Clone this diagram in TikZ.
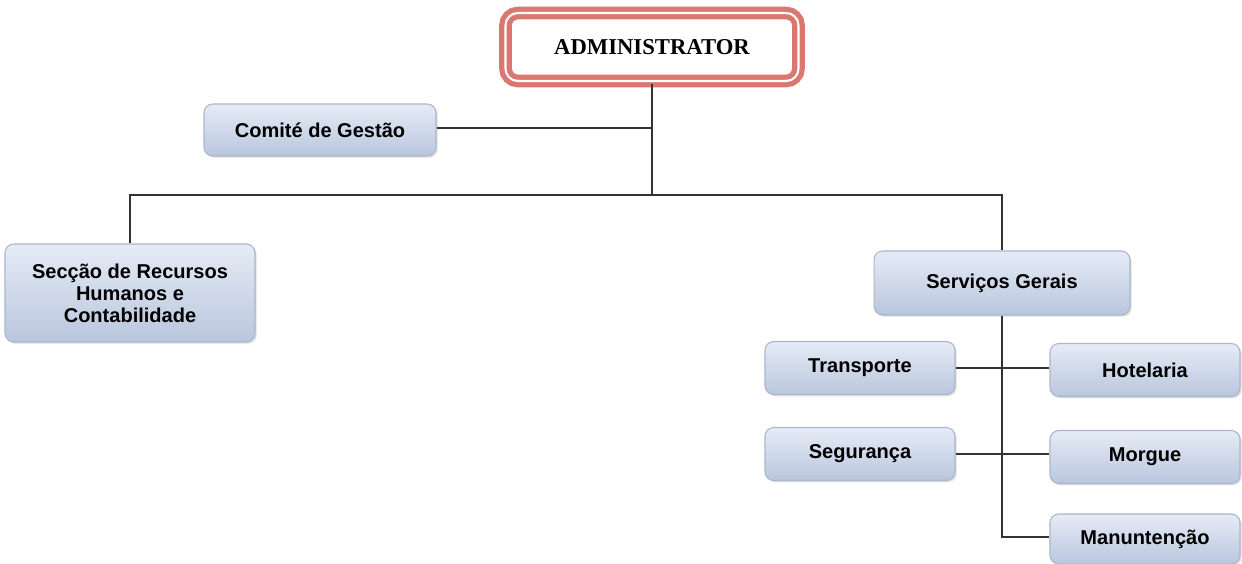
\documentclass[tikz,border=0pt]{standalone}
\usepackage{fontspec}
\setmainfont{Liberation Sans}
\newfontfamily\headfont{Liberation Serif}
\usetikzlibrary{shadows}
\definecolor{boxtop}{HTML}{E6ECF6}
\definecolor{boxbot}{HTML}{B9C6DD}
\definecolor{boxedge}{HTML}{A9B6CC}
\definecolor{headred}{HTML}{DB7770}
\definecolor{lineclr}{HTML}{333333}
\tikzset{
  unit/.style={draw=boxedge, line width=0.6pt, rounded corners=5pt,
    top color=boxtop, bottom color=boxbot, align=center,
    font=\bfseries\fontsize{11.4}{12.5}\selectfont, inner sep=0pt,
    drop shadow={shadow xshift=1pt, shadow yshift=-1pt, opacity=0.25}},
  head/.style={draw=headred, line width=3pt, rounded corners=7pt, fill=white,
    double=white, double distance=1.2pt,
    font=\headfont\bfseries\fontsize{12.9}{15}\selectfont, inner sep=0pt},
  link/.style={draw=lineclr, line width=0.6pt}
}
\begin{document}
\begin{tikzpicture}[x=0.02cm, y=-0.02cm]
\useasboundingbox (0,0) rectangle (1242,564);
% top of the chart
\node[head, minimum width=5.86cm, minimum height=1.36cm] (adm) at (652,47) {ADMINISTRATOR};
\node[unit, minimum width=4.64cm, minimum height=1.04cm] (com) at (320,130) {Comité de Gestão};
% first level
\node[unit, minimum width=5.0cm, minimum height=1.96cm] (rh) at (130,293) {Secção de Recursos\\Humanos e\\Contabilidade};
\node[unit, minimum width=5.12cm, minimum height=1.28cm] (sg) at (1002,283) {Serviços Gerais};
% general services units
\node[unit, minimum width=3.8cm, minimum height=1.06cm] (tra) at (860,368) {Transporte};
\node[unit, minimum width=3.8cm, minimum height=1.06cm] (seg) at (860,454) {Segurança};
\node[unit, minimum width=3.8cm, minimum height=1.06cm] (hot) at (1145,370) {Hotelaria};
\node[unit, minimum width=3.8cm, minimum height=1.06cm] (mor) at (1145,457) {Morgue};
\node[unit, minimum width=3.8cm, minimum height=1.0cm] (man) at (1145,539) {Manuntenção};
% connectors
\coordinate (hub) at (652,195);
\coordinate (sgdrop) at (1002,537);
\draw[link] (adm.south) -- (hub);
\draw[link] (com.east |- 0,128) -- (652,128);
\draw[link] (rh.north) |- (hub);
\draw[link] (sg.north) |- (hub);
\draw[link] (sg.south) -- (sgdrop) -- (man.west |- sgdrop);
\draw[link] (tra.east) -- (hot.west |- tra.east);
\draw[link] (seg.east) -- (mor.west |- seg.east);
\end{tikzpicture}
\end{document}
